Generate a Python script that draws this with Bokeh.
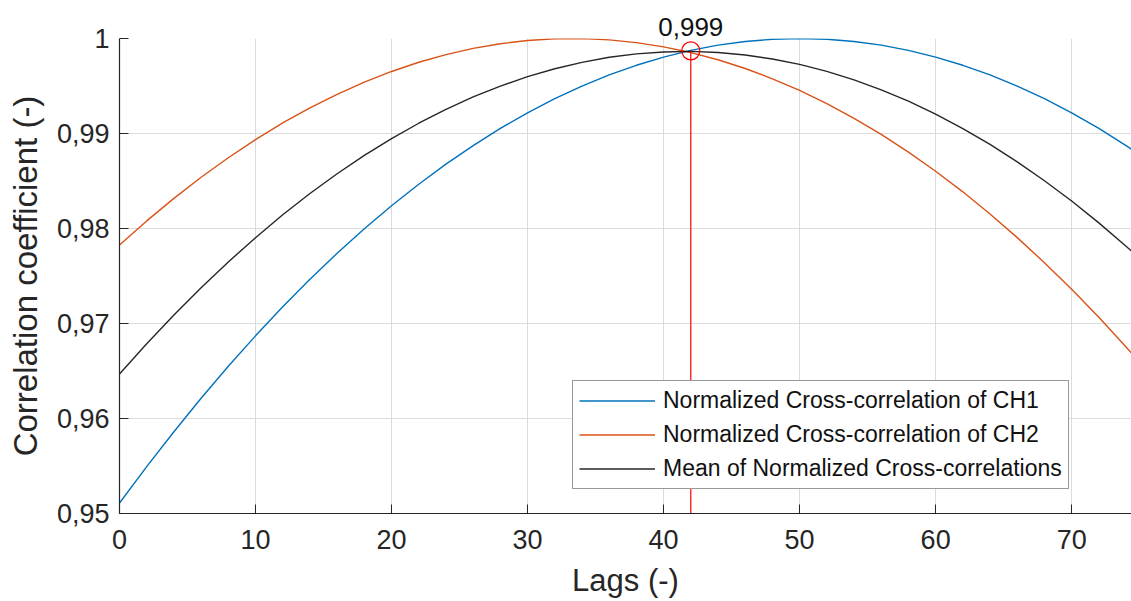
from bokeh.plotting import figure
from bokeh.models import (ColumnDataSource, Legend, LegendItem, Range1d, FixedTicker,
                          CustomJSTickFormatter, Title)
from bokeh.embed import file_html
from bokeh.resources import INLINE

# ---- data ----
lags = [0, 2, 4, 6, 8, 10, 12, 14, 16, 18, 20, 22, 24, 26, 28, 30, 32, 34, 36, 38,
        40, 42, 44, 46, 48, 50, 52, 54, 56, 58, 60, 62, 64, 66, 68, 70, 72, 74, 74.4]
ch1 = [0.95110, 0.95493, 0.95861, 0.96213, 0.96550, 0.96870, 0.97176, 0.97465,
       0.97739, 0.97997, 0.98240, 0.98466, 0.98678, 0.98873, 0.99053, 0.99218,
       0.99366, 0.99499, 0.99617, 0.99718, 0.99804, 0.99875, 0.99930, 0.99969,
       0.99992, 1.00000, 0.99992, 0.99969, 0.99930, 0.99875, 0.99804, 0.99718,
       0.99617, 0.99499, 0.99366, 0.99218, 0.99053, 0.98873, 0.98835]
ch2 = [0.97827, 0.98080, 0.98317, 0.98539, 0.98745, 0.98936, 0.99111, 0.99270,
       0.99413, 0.99541, 0.99653, 0.99750, 0.99830, 0.99896, 0.99945, 0.99979,
       0.99997, 0.99999, 0.99986, 0.99957, 0.99912, 0.99852, 0.99776, 0.99684,
       0.99576, 0.99453, 0.99315, 0.99160, 0.98990, 0.98804, 0.98603, 0.98386,
       0.98153, 0.97904, 0.97640, 0.97360, 0.97065, 0.96753, 0.96689]
mean_cc = [0.96469, 0.96787, 0.97089, 0.97376, 0.97648, 0.97903, 0.98144, 0.98368,
           0.98576, 0.98769, 0.98947, 0.99108, 0.99254, 0.99385, 0.99499, 0.99599,
           0.99682, 0.99749, 0.99802, 0.99838, 0.99858, 0.99864, 0.99853, 0.99827,
           0.99784, 0.99727, 0.99654, 0.99565, 0.99460, 0.99340, 0.99204, 0.99052,
           0.98885, 0.98702, 0.98503, 0.98289, 0.98059, 0.97813, 0.97762]
peak_lag = 42
peak_val = 0.9987
peak_text = "0,999"

x_min, x_max = 0, 74.4
y_min, y_max = 0.95, 1.0
x_ticks = [0, 10, 20, 30, 40, 50, 60, 70]
y_ticks = [0.95, 0.96, 0.97, 0.98, 0.99, 1.0]
y_tick_labels = ["0,95", "0,96", "0,97", "0,98", "0,99", "1"]
labels = ["Normalized Cross-correlation of CH1",
          "Normalized Cross-correlation of CH2",
          "Mean of Normalized Cross-correlations"]

FONT = "Liberation Sans"
TXT = "#262626"
W, H = 1131, 601
BL, BR, BT, BB = 119, 0, 38, 88
frame_w = W - BL - BR
PEAK_FS = 26
peak_text_w = PEAK_FS * (0.556 * 4 + 0.278)   # approx. width of "0,999"

p = figure(width=W, height=H, output_backend="svg", toolbar_location=None,
           x_range=Range1d(x_min, x_max), y_range=Range1d(y_min, y_max),
           min_border_left=BL, min_border_right=BR, min_border_top=BT,
           min_border_bottom=BB)
p.outline_line_color = None
p.background_fill_color = "white"
p.border_fill_color = "white"

src = ColumnDataSource(dict(lag=lags, ch1=ch1, ch2=ch2, mean=mean_cc))
r1 = p.line("lag", "ch1", source=src, line_color="#0072BD", line_width=1.4)
r2 = p.line("lag", "ch2", source=src, line_color="#D95319", line_width=1.4)
r3 = p.line("lag", "mean", source=src, line_color="#000000", line_width=1.4, line_alpha=0.85)

psrc = ColumnDataSource(dict(x=[peak_lag], y=[peak_val], y0=[y_min]))
p.segment(x0="x", y0="y0", x1="x", y1="y", source=psrc, line_color="#FF0000", line_width=1.2)
p.scatter("x", "y", source=psrc, size=18, marker="circle", fill_color=None,
          line_color="#FF0000", line_width=1.3)

# peak value text, placed above the frame over the peak lag
px_per_unit = frame_w / (x_max - x_min)
t = Title(text=peak_text, align="left",
          offset=(peak_lag - x_min) * px_per_unit - peak_text_w / 2,
          text_font=FONT, text_font_size=f"{PEAK_FS}px", text_font_style="normal",
          text_color="#111111", standoff=6, vertical_align="bottom")
p.add_layout(t, "above")

# axes
for ax in (p.xaxis[0], p.yaxis[0]):
    ax.axis_line_color = TXT
    ax.axis_line_width = 1.2
    ax.major_tick_line_color = TXT
    ax.major_tick_in = 9
    ax.major_tick_out = 0
    ax.minor_tick_line_color = None
    ax.major_label_text_font = FONT
    ax.major_label_text_font_size = "27px"
    ax.major_label_text_color = TXT
    ax.axis_label_text_font = FONT
    ax.axis_label_text_color = TXT
    ax.axis_label_text_font_style = "normal"

p.xaxis.axis_label_text_font_size = "31px"
p.yaxis.axis_label_text_font_size = "33px"
p.xaxis.ticker = FixedTicker(ticks=x_ticks)
p.yaxis.ticker = FixedTicker(ticks=y_ticks)
p.yaxis.formatter = CustomJSTickFormatter(args=dict(vals=y_ticks, labs=y_tick_labels), code="""
    for (let i = 0; i < vals.length; i++) { if (Math.abs(vals[i] - tick) < 1e-9) return labs[i]; }
    return tick.toString().replace('.', ',');
""")
p.xaxis.axis_label = "Lags (-)"
p.yaxis.axis_label = "Correlation coefficient (-)"
p.xaxis.major_label_standoff = 16
p.yaxis.major_label_standoff = 10
p.xaxis.axis_label_standoff = 11
p.yaxis.axis_label_standoff = 10

p.xgrid.ticker = FixedTicker(ticks=x_ticks)
p.ygrid.ticker = FixedTicker(ticks=y_ticks)
p.grid.grid_line_color = "#dcdcdc"
p.grid.grid_line_width = 1

legend = Legend(items=[LegendItem(label=labels[0], renderers=[r1]),
                       LegendItem(label=labels[1], renderers=[r2]),
                       LegendItem(label=labels[2], renderers=[r3])],
                location=(453, 24))
legend.label_text_font = FONT
legend.label_text_font_size = "23px"
legend.label_text_color = "#111111"
legend.glyph_width = 76
legend.glyph_height = 25
legend.label_height = 25
legend.spacing = 7
legend.padding = 6
legend.margin = 0
legend.label_standoff = 8
legend.border_line_color = "#333333"
legend.border_line_width = 1
legend.background_fill_color = "white"
legend.background_fill_alpha = 1
p.add_layout(legend)

open("out.html", "w").write(file_html(p, INLINE))
